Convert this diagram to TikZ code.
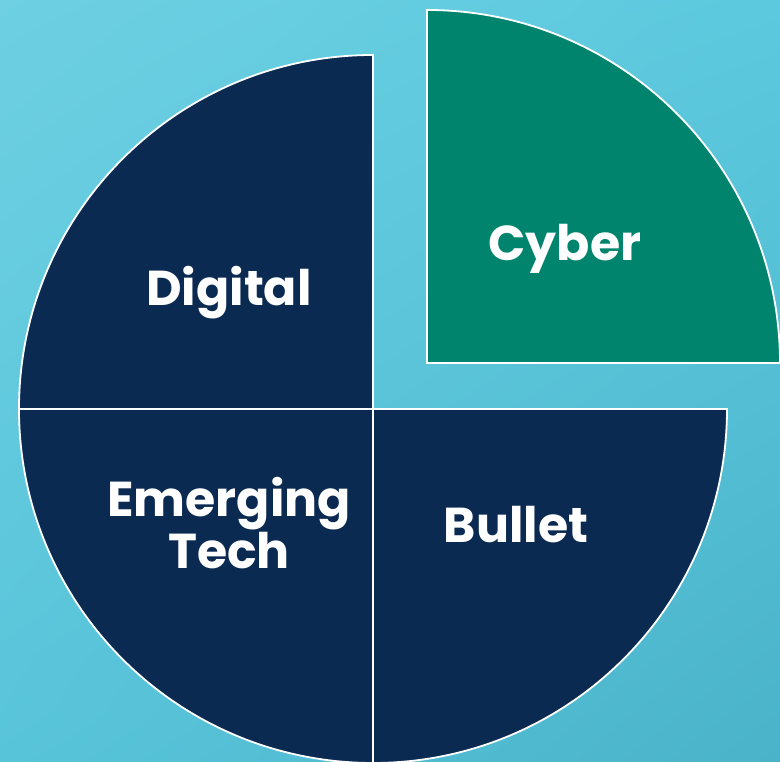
\documentclass[tikz,border=0pt]{standalone}
\usepackage{fontspec}
\setmainfont{Poppins}
\usetikzlibrary{shadings}
\definecolor{navy}{HTML}{0B2A52}
\definecolor{teal}{HTML}{00846E}
\definecolor{bgTL}{HTML}{6ED0E2}
\definecolor{bgTR}{HTML}{5CC9DE}
\definecolor{bgBL}{HTML}{58C4DA}
\definecolor{bgBR}{HTML}{4AB3CA}
\tikzset{
  slice/.style={fill=navy, draw=white, line width=1.8pt, line join=miter},
  cyberslice/.style={fill=teal, draw=white, line width=1.8pt},
  lbl/.style={text=white, font=\bfseries\fontsize{49}{52}\selectfont, align=center, inner sep=0pt}
}
\begin{document}
\begin{tikzpicture}[x=1pt,y=1pt]
\useasboundingbox (0,0) rectangle (780,762);
\shade[upper left=bgTL, upper right=bgTR, lower left=bgBL, lower right=bgBR] (0,0) rectangle (780,762);
\coordinate (c) at (373,353);
% Digital (upper left)
\draw[slice] (c) -- (373,707) arc[start angle=90, end angle=180, radius=354] -- cycle;
% Emerging Tech (lower left)
\draw[slice] (c) -- (19,353) arc[start angle=180, end angle=270, radius=354] -- cycle;
% Bullet (lower right)
\draw[slice] (c) -- (373,-1) arc[start angle=270, end angle=360, radius=354] -- cycle;
% Cyber (exploded upper right)
\coordinate (k) at (427,399);
\draw[cyberslice] (k) -- (780,399) arc[start angle=0, end angle=90, radius=353] -- cycle;
\node[lbl] (digital) at (229,469) {Digital};
\node[lbl] (cyber) at (565,513) {Cyber};
\node[lbl] (em) at (229,239) {Emerging\\Tech};
\node[lbl] (bullet) at (516,237) {Bullet};
\end{tikzpicture}
\end{document}
